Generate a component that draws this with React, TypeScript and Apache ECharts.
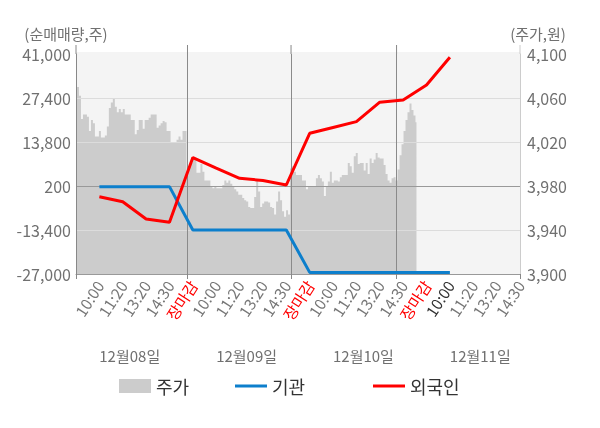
import React, { useEffect, useRef } from 'react';
import * as echarts from 'echarts';

// ---- data ----
const TIME_LABELS = ['', '10:00', '11:20', '13:20', '14:30', '장마감', '10:00', '11:20', '13:20', '14:30', '장마감', '10:00', '11:20', '13:20', '14:30', '장마감', '10:00', '11:20', '13:20', '14:30'];
const CLOSE_LABEL = '장마감';
const LATEST_DAY_FIRST_INDEX = 16;
const DATE_LABELS = ['12월08일', '12월09일', '12월10일', '12월11일'];
const LEFT_TICKS = ['-27,000', '-13,400', '200', '13,800', '27,400', '41,000'];
const RIGHT_TICKS = ['3,900', '3,940', '3,980', '4,020', '4,060', '4,100'];
const LEFT_MIN = -27000;
const LEFT_MAX = 41000;
const RIGHT_MIN = 3900;
const RIGHT_MAX = 4100;

// net buying (shares), on the time-label slots
const INSTITUTION = [null, 0, 0, 0, 0, -13400, -13400, -13400, -13400, -13400, -26500, -26500, -26500, -26500, -26500, -26500, -26500, null, null, null];
const FOREIGN = [null, -3100, -4650, -10000, -11000, 9000, 5700, 2580, 1900, 510, 16500, 18300, 20100, 26100, 26800, 31400, 40000, null, null, null];

// intraday price (won)
const PRICE_DAY1 = [
  4058, 4070, 4062, 4041, 4045, 4045, 4043, 4030, 4040, 4037,
  4025, 4025, 4030, 4024, 4024, 4026, 4034, 4051, 4056, 4059,
  4052, 4047, 4050, 4047, 4050, 4045, 4045, 4045, 4040, 4040,
  4027, 4031, 4040, 4040, 4032, 4040, 4040, 4042, 4045, 4045,
  4045, 4033, 4035, 4037, 4039, 4038, 4030, 4030, 4020, 4020,
  4020, 4022, 4025, 4022, 4030, 4030,
];
const PRICE_DAY2 = [
  3993, 3998, 4001, 4005, 4004, 3992, 3992, 4000, 3993, 3985,
  3985, 3985, 3979, 3978, 3979, 3978, 3978, 3978, 3981, 3985,
  3983, 3985, 3982, 3979, 3977, 3975, 3972, 3972, 3969, 3967,
  3966, 3961, 3960, 3960, 3970, 3985, 3975, 3961, 3964, 3966,
  3966, 3965, 3961, 3960, 3954, 3966, 3975, 3967, 3957, 3952,
  3958, 3954,
];
const PRICE_DAY3 = [
  3996, 3998, 3993, 3990, 3990, 3990, 3985, 3985, 3977, 3979,
  3979, 3979, 3979, 3987, 3990, 3987, 3984, 3971, 3979, 3984,
  3993, 3983, 3985, 3985, 3984, 3988, 3990, 3990, 3990, 4001,
  3998, 3992, 4007, 4010, 4000, 4001, 4001, 3994, 4001, 3991,
  4005, 4001, 4004, 4010, 4006, 4005, 4005, 3999, 3991, 3985,
  3983, 3987, 3988,
];
const PRICE_DAY4 = [3985, 3995, 4008, 4018, 4030, 4040, 4047, 4055, 4049, 4044, 4038];
const PRICE_SLOT_COUNT = 224;

// ---- layout ----
const W = 600;
const H = 428;
const GRID_LEFT = 76;
const GRID_RIGHT_X = 520;
const GRID_TOP = 54;
const GRID_BOTTOM_Y = 274;
const BG_TOP = 52;
const LINE_TOP = 45;
const FONT = "'Noto Sans CJK KR', 'Noto Sans', sans-serif";
const GRAY_TEXT = '#707070';

export default function App() {
  const ref = useRef<HTMLDivElement>(null);

  useEffect(() => {
    if (!ref.current) return;
    const chart = echarts.init(ref.current, null, { renderer: 'svg' });

    const prices = [...PRICE_DAY1, ...PRICE_DAY2, ...PRICE_DAY3, ...PRICE_DAY4];
    const dayStarts = [
      PRICE_DAY1.length,
      PRICE_DAY1.length + PRICE_DAY2.length,
      PRICE_DAY1.length + PRICE_DAY2.length + PRICE_DAY3.length,
    ];
    const tickIdx = [0, ...dayStarts, PRICE_SLOT_COUNT - 1];
    const slots = Array.from({ length: PRICE_SLOT_COUNT }, (_, i) => String(i));

    const legendBase = {
      top: 372,
      itemWidth: 32,
      icon: 'rect',
      selectedMode: false,
      textStyle: { fontSize: 18, color: '#333', fontFamily: FONT },
    };

    chart.setOption({
      animation: false,
      textStyle: { fontFamily: FONT },
      grid: {
        left: GRID_LEFT,
        right: W - GRID_RIGHT_X,
        top: GRID_TOP,
        bottom: H - GRID_BOTTOM_Y,
        containLabel: false,
      },
      legend: [
        { ...legendBase, data: ['주가'], left: 114, itemHeight: 14 },
        { ...legendBase, data: ['기관'], left: 230, itemHeight: 3 },
        { ...legendBase, data: ['외국인'], left: 368, itemHeight: 3 },
      ],
      xAxis: [
        {
          type: 'category',
          data: TIME_LABELS,
          boundaryGap: false,
          position: 'bottom',
          axisLine: { show: false },
          axisTick: { show: false },
          splitLine: { show: false },
          axisLabel: {
            interval: 0,
            rotate: 57,
            margin: 8,
            fontSize: 15.5,
            fontFamily: FONT,
            color: (value: string, index: number) =>
              value === CLOSE_LABEL ? '#ff0000' : index === LATEST_DAY_FIRST_INDEX ? '#333333' : '#777777',
          },
        },
        {
          type: 'category',
          data: slots,
          boundaryGap: false,
          position: 'bottom',
          axisLine: { show: true, onZero: false, lineStyle: { color: '#999', width: 1 } },
          axisTick: {
            show: true,
            length: 5,
            interval: (index: number) => tickIdx.includes(index),
            lineStyle: { color: '#888' },
          },
          splitLine: {
            show: true,
            interval: (index: number) => dayStarts.includes(index),
            lineStyle: { color: '#8a8a8a', width: 1 },
          },
          axisLabel: { show: false },
        },
      ],
      yAxis: [
        {
          type: 'value',
          position: 'left',
          min: 0,
          max: LEFT_TICKS.length - 1,
          interval: 1,
          axisLine: { show: true, lineStyle: { color: '#888' } },
          axisTick: { show: false },
          axisLabel: {
            formatter: (v: number) => LEFT_TICKS[v] ?? '',
            fontSize: 16,
            color: GRAY_TEXT,
            margin: 5,
            fontFamily: FONT,
          },
          splitLine: {
            show: true,
            lineStyle: { color: ['#dcdcdc', '#dcdcdc', '#999999', '#dcdcdc', '#dcdcdc', 'rgba(0,0,0,0)'], width: 1 },
          },
        },
        {
          type: 'value',
          position: 'right',
          min: 0,
          max: RIGHT_TICKS.length - 1,
          interval: 1,
          axisLine: { show: true, lineStyle: { color: '#cccccc' } },
          axisTick: { show: false },
          axisLabel: {
            formatter: (v: number) => RIGHT_TICKS[v] ?? '',
            fontSize: 16,
            color: GRAY_TEXT,
            margin: 7,
            fontFamily: FONT,
          },
          splitLine: { show: false },
        },
        { type: 'value', show: false, min: LEFT_MIN, max: LEFT_MAX, splitLine: { show: false } },
        { type: 'value', show: false, min: RIGHT_MIN, max: RIGHT_MAX, splitLine: { show: false } },
      ],
      series: [
        {
          name: '주가',
          type: 'line',
          xAxisIndex: 1,
          yAxisIndex: 3,
          data: prices,
          step: 'middle',
          symbol: 'none',
          color: '#cccccc',
          lineStyle: { width: 0 },
          areaStyle: { color: '#cccccc', opacity: 1, origin: 'start' },
          silent: true,
          z: -5,
        },
        {
          name: '기관',
          type: 'line',
          xAxisIndex: 0,
          yAxisIndex: 2,
          data: INSTITUTION,
          symbol: 'none',
          color: '#0d7fcc',
          lineStyle: { width: 3, color: '#0d7fcc' },
          z: 3,
        },
        {
          name: '외국인',
          type: 'line',
          xAxisIndex: 0,
          yAxisIndex: 2,
          data: FOREIGN,
          symbol: 'none',
          color: '#ff0000',
          lineStyle: { width: 3, color: '#ff0000' },
          z: 4,
        },
      ],
    });

    // structural decorations: background, axis/separator extensions, axis names, date labels
    const sepXs = tickIdx.map((i) => chart.convertToPixel({ xAxisIndex: 1 }, i) as number);
    const step = (GRID_RIGHT_X - GRID_LEFT) / (TIME_LABELS.length - 1);
    const graphics: any[] = [
      {
        type: 'rect',
        z: -10,
        silent: true,
        shape: { x: GRID_LEFT, y: BG_TOP, width: GRID_RIGHT_X - GRID_LEFT, height: GRID_BOTTOM_Y - BG_TOP },
        style: { fill: '#f4f4f4' },
      },
    ];
    sepXs.forEach((x, k) => {
      const isRight = k === sepXs.length - 1;
      graphics.push({
        type: 'line',
        silent: true,
        shape: { x1: isRight ? GRID_RIGHT_X : x, y1: LINE_TOP, x2: isRight ? GRID_RIGHT_X : x, y2: GRID_TOP },
        style: { stroke: isRight ? '#cccccc' : '#888888', lineWidth: 1 },
      });
    });
    graphics.push(
      {
        type: 'text',
        x: 66,
        y: 33,
        style: { text: '(순매매량,주)', fill: GRAY_TEXT, fontSize: 15, fontFamily: FONT, align: 'center', verticalAlign: 'middle' },
      },
      {
        type: 'text',
        x: 538,
        y: 33,
        style: { text: '(주가,원)', fill: GRAY_TEXT, fontSize: 15, fontFamily: FONT, align: 'center', verticalAlign: 'middle' },
      }
    );
    DATE_LABELS.forEach((d, k) => {
      graphics.push({
        type: 'text',
        x: GRID_LEFT + (2.3 + 5 * k) * step,
        y: 355,
        style: { text: d, fill: GRAY_TEXT, fontSize: 15, fontFamily: FONT, align: 'center', verticalAlign: 'middle' },
      });
    });
    chart.setOption({ graphic: graphics });

    return () => chart.dispose();
  }, []);

  return <div ref={ref} style={{ position: 'fixed', left: 0, top: 0, width: W, height: H }} />;
}
